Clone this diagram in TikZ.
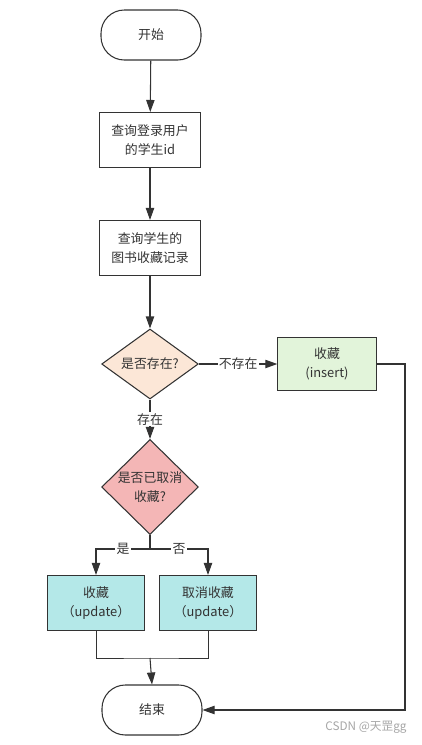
\documentclass[tikz,border=0pt]{standalone}
\usepackage{fontspec}
\usepackage{xcolor}
\usepackage{tikz}
\usetikzlibrary{shapes.geometric, arrows.meta, positioning}
\newfontfamily\cjk{Noto Sans CJK SC}
\definecolor{linegray}{HTML}{333333}
\definecolor{peach}{HTML}{FCE7D7}
\definecolor{rose}{HTML}{F4B6B6}
\definecolor{mint}{HTML}{E2F4DA}
\definecolor{aqua}{HTML}{B4E8E8}
\tikzset{
  terminal/.style={rectangle, rounded corners=0.7cm, minimum width=3cm, minimum height=1.5cm, text centered, draw=linegray, fill=white, line width=0.9pt},
  process/.style={rectangle, minimum width=3.05cm, minimum height=1.65cm, align=center, draw=linegray, fill=white, line width=0.9pt},
  decision/.style={diamond, minimum width=2.9cm, minimum height=2.1cm, inner sep=0pt, align=center, draw=linegray, line width=0.9pt},
  lbl/.style={fill=white, inner sep=1pt, text=linegray},
  arrow/.style={line width=0.9pt, draw=linegray, -{Triangle[length=0.36cm, width=0.25cm]}},
  line/.style={line width=0.9pt, draw=linegray}
}

\begin{document}
\begin{tikzpicture}[x=0.03cm, y=-0.03cm, every node/.style={font=\cjk\fontsize{11}{16}\selectfont, text=linegray}]
\useasboundingbox (0,0) rectangle (422,745);

% Main column
\node[terminal] (start) at (151,35) {开始};
\node[process] (userid) at (150,140) {查询登录用户\\的学生id};
\node[process] (records) at (150,248) {查询学生的\\图书收藏记录};
\node[decision, fill=peach] (exists) at (150,364) {是否存在?};
\node[process, fill=mint, minimum width=2.95cm, minimum height=1.6cm] (insert) at (327,364) {收藏\\(insert)};
\node[decision, fill=rose] (cancelled) at (150,487) {是否已取消\\收藏?};
\node[process, fill=aqua, minimum width=2.9cm] (collect) at (96,603) {收藏\\（update）};
\node[process, fill=aqua, minimum width=2.9cm] (uncollect) at (208,603) {取消收藏\\（update）};
\node[terminal] (stop) at (152,710) {结束};

% Helper points
\coordinate (split) at (150,549);
\coordinate (merge) at (150,658);
\coordinate (corner) at (405,364);

% Arrows
\draw[arrow] (start) -- (userid);
\draw[arrow] (userid) -- (records);
\draw[arrow] (records) -- (exists);
\draw[arrow] (exists.east) -- node[lbl]{不存在} (insert.west);
\draw[arrow] (exists.south) -- node[lbl]{存在} (cancelled.north);
\draw[line] (cancelled.south) -- (split);
\draw[arrow] (split) -- node[lbl]{是} (split -| collect.north) -- (collect.north);
\draw[arrow] (split) -- node[lbl]{否} (split -| uncollect.north) -- (uncollect.north);
\draw[line, line width=0.7pt] (collect.south) |- (merge) -| (uncollect.south);
\draw[arrow] (merge) -- (stop.north);
\draw[arrow] (insert.east) -- (corner) |- (stop.east);

% Watermark
\node[text=gray!70, font=\cjk\fontsize{10}{12}\selectfont] (mark) at (366,727) {CSDN @天罡gg};
\end{tikzpicture}
\end{document}
